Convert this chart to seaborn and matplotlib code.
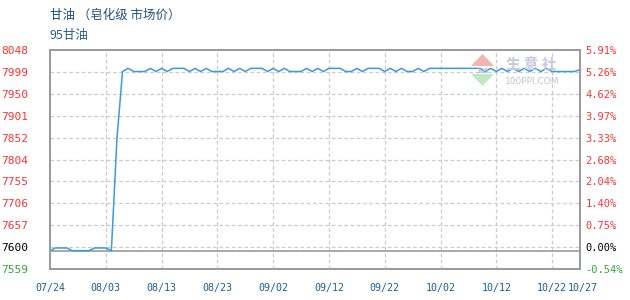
import numpy as np
import pandas as pd
import matplotlib
matplotlib.use("Agg")
import matplotlib.pyplot as plt
import matplotlib.transforms as mtransforms
from matplotlib.patches import Polygon
import seaborn as sns

# ---------------- data ----------------
n_days = 96
L, H = 8000, 8007
prices = [7600, 7606, 7606, 7606, 7600, 7600, 7600, 7600, 7606, 7606,
          7606, 7600, 7850, L, H, L, L, L, H, L,
          H, L, H, H, H, L, H, L, H, L,
          L, L, H, L, H, L, H, H, H, L,
          H, L, H, L, L, L, H, L, H, L,
          H, H, H, L, L, H, L, H, H, H,
          L, H, L, H, L, L, H, L, H, H,
          H, H, H, H, H, H, H, H, L, H,
          L, H, L, H, L, H, L, H, L, H,
          L, L, L, L, L, 8004]
xtick_days = [0, 10, 20, 30, 40, 50, 60, 70, 80, 90, 95]
xtick_labels = ["07/24", "08/03", "08/13", "08/23", "09/02", "09/12",
                "09/22", "10/02", "10/12", "10/22", "10/27"]
ytick_labels = ["7559", "7600", "7657", "7706", "7755", "7804",
                "7852", "7901", "7950", "7999", "8048"]
pct_labels = ["-0.54%", "0.00%", "0.75%", "1.40%", "2.04%", "2.68%",
              "3.33%", "3.97%", "4.62%", "5.26%", "5.91%"]
y_min, y_max = 7559, 8048
base_price = 7600
title = "甘油 （皂化级 市场价）"
subtitle = "95甘油"

df = pd.DataFrame({"day": np.arange(n_days), "price": prices})

# ---------------- style ----------------
sns.set_style("white")
plt.rcParams["font.family"] = ["Noto Sans CJK SC", "DejaVu Sans"]

W, Hpx = 630, 300
fig = plt.figure(figsize=(6.3, 3.0), dpi=100)
ax = fig.add_axes([50 / W, (Hpx - 269) / Hpx, 530 / W, 219 / Hpx])

grid_c = "#cccccc"
yticks = np.linspace(y_min, y_max, 11)
for yt in yticks[1:-1]:
    ax.axhline(yt, color=grid_c, lw=0.9, ls=(0, (3, 2)), zorder=1)
for xt in xtick_days[1:-1]:
    ax.axvline(xt, color=grid_c, lw=0.9, ls=(0, (3, 2)), zorder=1)
ax.axhline(base_price, color="#999999", lw=1.2, zorder=2)

sns.lineplot(data=df, x="day", y="price", ax=ax, color="#3d9ad8",
             linewidth=1.1, zorder=3)

ax.set_xlim(0, n_days - 1)
ax.set_ylim(y_min, y_max)
ax.set_xlabel("")
ax.set_ylabel("")

mono = "DejaVu Sans Mono"
ax.set_xticks(xtick_days)
ax.set_xticklabels(xtick_labels, family=mono, fontsize=7.2, color="#1a5f8f")
ax.set_yticks(yticks)
ax.set_yticklabels(ytick_labels, family=mono, fontsize=8)
ax.tick_params(axis="both", length=0)
ax.tick_params(axis="x", pad=10)
ax.tick_params(axis="y", pad=16)

# nudge the last date label a little to the right so it just touches its neighbour
last = ax.get_xticklabels()[-1]
last.set_transform(last.get_transform() +
                   mtransforms.ScaledTranslation(3 / 100, 0, fig.dpi_scale_trans))

red, green = "#ff3333", "#33aa33"
for i, lab in enumerate(ax.get_yticklabels()):
    lab.set_color(green if i == 0 else ("#000000" if i == 1 else red))

ax2 = ax.twinx()
ax2.set_ylim(y_min, y_max)
ax2.set_yticks(yticks)
ax2.set_yticklabels(pct_labels, family=mono, fontsize=7.5)
ax2.tick_params(axis="y", length=0, pad=4)
for i, lab in enumerate(ax2.get_yticklabels()):
    lab.set_color(green if i == 0 else ("#000000" if i == 1 else red))

for a in (ax, ax2):
    for s in a.spines.values():
        s.set_color("#999999")
        s.set_linewidth(1.2)

# ---------------- titles ----------------
fig.text(50 / W, 1 - 15 / Hpx, title, fontsize=9, color="#1f4f7f",
         va="center", ha="left")
fig.text(50 / W, 1 - 35 / Hpx, subtitle, fontsize=9, color="#2a5f8a",
         va="center", ha="left")

# ---------------- watermark ----------------
def fx(x):
    return x / W

def fy(y):
    return 1 - y / Hpx

up = Polygon([(fx(471), fy(66)), (fx(494), fy(66)), (fx(482.5), fy(54))],
             closed=True, transform=fig.transFigure, facecolor="#f4b4b4",
             edgecolor="none", zorder=0)
dn = Polygon([(fx(471), fy(74)), (fx(494), fy(74)), (fx(482.5), fy(86))],
             closed=True, transform=fig.transFigure, facecolor="#bfe8c4",
             edgecolor="none", zorder=0)
fig.patches.extend([up, dn])
fig.text(fx(482.5), fy(70), "100", fontsize=5, color="#b0b8c8",
         ha="center", va="center", weight="bold")
fig.text(fx(531), fy(64), "生 意 社", fontsize=10.5, color="#c4cbe0",
         ha="center", va="center", weight="bold")
fig.text(fx(532), fy(81), "100PPI.COM", fontsize=6.5, color="#c0c6d0",
         ha="center", va="center", family="DejaVu Sans")

fig.savefig("out.png", dpi=100)
